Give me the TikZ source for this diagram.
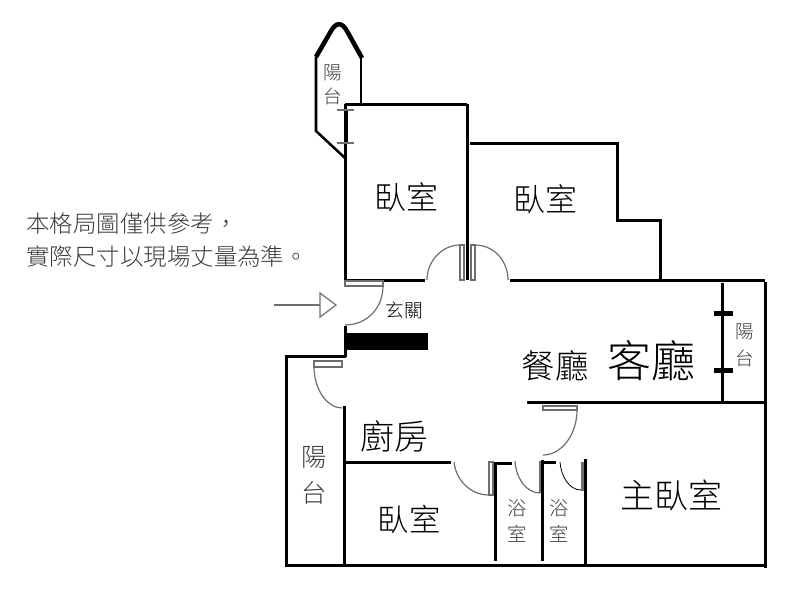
\documentclass[tikz,border=0pt]{standalone}
\usepackage{fontspec}
\usepackage{xcolor}
\usetikzlibrary{calc}
\newfontfamily\cjk{Noto Sans CJK TC Light}
\definecolor{planblack}{RGB}{0,0,0}
\definecolor{plangray}{RGB}{110,110,110}
\definecolor{textgray}{RGB}{60,60,60}
\tikzstyle{wall} = [line width=2.25pt,color=planblack]
\tikzstyle{thinwall} = [line width=1.9pt,color=planblack]
\tikzstyle{swing} = [line width=0.9pt,color=plangray]
\tikzstyle{leaf} = [line width=0.9pt,color=plangray,fill=white]
\tikzstyle{room} = [inner sep=0pt,color=planblack,align=center]

\begin{document}
\begin{tikzpicture}[x=0.75pt,y=-0.75pt,font=\cjk]
    \useasboundingbox (0,0) rectangle (800,600);

    % Outer walls
    \draw[wall] (345,104) -- (467,104);
    \draw[wall] (345,104) -- (345,280);
    \draw[wall] (467,104) -- (467,280);
    \draw[wall] (470,143) -- (617,143) -- (617,220) -- (660,220) -- (660,280);
    \draw[wall] (345,280) -- (425,280);
    \draw[wall] (510,280) -- (765,280);
    \draw[wall] (765,282) -- (765,568);
    \draw[wall] (286,565) -- (765,565);
    \draw[wall] (286,356) -- (286,567);
    \draw[wall] (285,356) -- (346,356);
    \draw[wall] (345,326) -- (345,357);

    % Top balcony
    \draw[thinwall] (361,58) -- (361,104);
    \draw[thinwall] (316,57) -- (316,131) -- (345,158);
    \draw[line width=3.4pt,line join=round] (316,57) -- (331,31) .. controls (336,22) and (342,22) .. (347,31) -- (362,58);
    \draw[line width=3pt] (346,110) -- (346,143);
    \draw[swing] (337,110) -- (354,110);
    \draw[swing] (337,143) -- (354,143);

    % Right balcony
    \draw[leaf,color=planblack,line width=0.6pt] (714,311) rectangle (732,315);
    \draw[leaf,color=planblack,line width=0.6pt] (714,368) rectangle (732,372);
    \draw[wall] (722,283) -- (722,403);
    \draw[wall] (527,402) -- (765,402);

    % Inner walls
    \draw[wall] (344,406) -- (344,565);
    \draw[wall] (345,462) -- (451,462);
    \draw[wall] (495,561) -- (495,463) -- (512,463);
    \draw[wall] (542,561) -- (542,460);
    \draw[wall] (542,462) -- (556,462);
    \draw[wall] (585,459) -- (585,565);

    % Black block
    \fill[planblack] (347,333) rectangle (428,350);

    % Doors
    \draw[leaf] (345,281) rectangle (383,286);
    \draw[swing] (383,286) .. controls (383,308) and (367,325) .. (345,325);
    \draw[leaf] (460,245) rectangle (464,280);
    \draw[swing] (427,280) .. controls (427,261) and (442,245) .. (460,245);
    \draw[leaf] (471,245) rectangle (475,280);
    \draw[swing] (475,245) .. controls (494,245) and (508,261) .. (508,280);
    \draw[leaf] (314,361) rectangle (342,367);
    \draw[swing] (314,367) .. controls (314,389) and (327,408) .. (342,408);
    \draw[leaf] (543,406) rectangle (577,410);
    \draw[swing] (577,410) .. controls (577,434) and (562,455) .. (543,455);
    \draw[leaf] (489,462) rectangle (493,495);
    \draw[swing] (454,462) .. controls (456,480) and (470,495) .. (489,495);
    \draw[line width=1.7pt,color=plangray] (540,461) -- (540,493);
    \draw[swing] (515,461) .. controls (516,478) and (526,493) .. (540,493);
    \draw[line width=0.6pt,fill=white,color=plangray] (581,462) rectangle (583,490);
    \draw[line width=0.6pt] (560,462) .. controls (561,476) and (569,490) .. (581,490);

    % Entrance arrow
    \coordinate (arrowtail) at (274,305);
    \coordinate (arrowbase) at (320,305);
    \draw[swing] (arrowtail) -- (arrowbase);
    \draw[swing] (320,293) -- (336,305) -- (320,317) -- cycle;

    % Note
    \node[room,anchor=west,color=textgray,font=\cjk\fontsize{17.6}{17.6}\selectfont] (noteone) at (26,224) {本格局圖僅供參考，};
    \node[room,anchor=west,color=textgray,font=\cjk\fontsize{17.6}{17.6}\selectfont] (notetwo) at (26,257) {實際尺寸以現場丈量為準。};

    % Labels
    \node[room,font=\cjk\fontsize{24}{24}\selectfont] (bedroomone) at (406,197) {臥室};
    \node[room,font=\cjk\fontsize{24}{24}\selectfont] (bedroomtwo) at (545,199) {臥室};
    \node[room,font=\cjk\fontsize{14}{14}\selectfont] (foyer) at (404,310) {玄關};
    \node[room,font=\cjk\fontsize{25}{25}\selectfont] (dining) at (555,366) {餐廳};
    \node[room,font=\cjk\fontsize{33}{33}\selectfont] (living) at (651,361) {客廳};
    \node[room,font=\cjk\fontsize{25.5}{25.5}\selectfont] (kitchen) at (394,436) {廚房};
    \node[room,font=\cjk\fontsize{23.5}{23.5}\selectfont] (bedroomthree) at (409,519) {臥室};
    \node[room,font=\cjk\fontsize{25.5}{25.5}\selectfont] (master) at (671,495) {主臥室};
    \node[room,color=textgray,font=\cjk\fontsize{19}{27}\selectfont] (balconyleft) at (314,475) {陽\\台};
    \node[room,color=textgray,font=\cjk\fontsize{14}{18}\selectfont] (balconytop) at (333,85) {陽\\台};
    \node[room,color=textgray,font=\cjk\fontsize{14}{20}\selectfont] (balconyright) at (745,345) {陽\\台};
    \node[room,color=textgray,font=\cjk\fontsize{14.5}{20}\selectfont] (bathone) at (517,521) {浴\\室};
    \node[room,color=textgray,font=\cjk\fontsize{14.5}{20}\selectfont] (bathtwo) at (559,521) {浴\\室};
\end{tikzpicture}
\end{document}
